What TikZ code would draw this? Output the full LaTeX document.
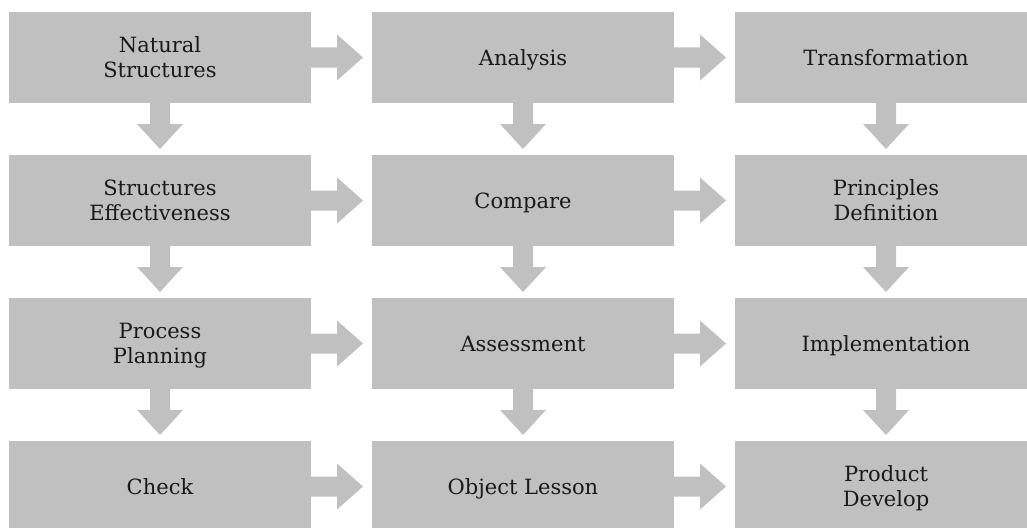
\documentclass[tikz,border=0pt]{standalone}
\usepackage{fontspec}
\setmainfont{DejaVu Serif}
\usetikzlibrary{positioning}
\definecolor{boxgray}{RGB}{192,192,192}
\definecolor{txtgray}{RGB}{25,25,25}
\tikzset{
  stagebox/.style={fill=boxgray,text=txtgray,minimum width=302pt,minimum height=91pt,
    inner sep=0pt,outer sep=0pt,align=center,text depth=0pt,
    font=\fontsize{21}{25}\selectfont},
  rarrow/.pic={\fill[boxgray] (0,10) -- (26,10) -- (26,23) -- (52,0) -- (26,-23)
    -- (26,-10) -- (0,-10) -- cycle;},
  darrow/.pic={\fill[boxgray] (-10,0) -- (-10,-21) -- (-23,-21) -- (0,-46) -- (23,-21)
    -- (10,-21) -- (10,0) -- cycle;}
}
\begin{document}
\begin{tikzpicture}[x=1pt,y=1pt,node distance=52pt and 61pt]
  \useasboundingbox (0,0) rectangle (1027,-527);
  \clip (0,0) rectangle (1027,-527);
  % row 1
  \node[stagebox] (natural) at (160,-57.5) {Natural\\Structures};
  \node[stagebox,right=of natural] (analysis) {Analysis};
  \node[stagebox,right=of analysis] (transform) {Transformation};
  % row 2
  \node[stagebox,below=of natural] (effect) {Structures\\Effectiveness};
  \node[stagebox,right=of effect] (compare) {Compare};
  \node[stagebox,right=of compare] (principles) {Principles\\Definition};
  % row 3
  \node[stagebox,below=of effect] (planning) {Process\\Planning};
  \node[stagebox,right=of planning] (assess) {Assessment};
  \node[stagebox,right=of assess] (implement) {Implementation};
  % row 4
  \node[stagebox,below=of planning] (check) {Check};
  \node[stagebox,right=of check] (lesson) {Object Lesson};
  \node[stagebox,right=of lesson] (product) {Product\\Develop};
  % arrows across
  \pic at (natural.east) {rarrow};
  \pic at (analysis.east) {rarrow};
  \pic at (effect.east) {rarrow};
  \pic at (compare.east) {rarrow};
  \pic at (planning.east) {rarrow};
  \pic at (assess.east) {rarrow};
  \pic at (check.east) {rarrow};
  \pic at (lesson.east) {rarrow};
  % arrows down
  \pic at (natural.south) {darrow};
  \pic at (analysis.south) {darrow};
  \pic at (transform.south) {darrow};
  \pic at (effect.south) {darrow};
  \pic at (compare.south) {darrow};
  \pic at (principles.south) {darrow};
  \pic at (planning.south) {darrow};
  \pic at (assess.south) {darrow};
  \pic at (implement.south) {darrow};
\end{tikzpicture}
\end{document}
